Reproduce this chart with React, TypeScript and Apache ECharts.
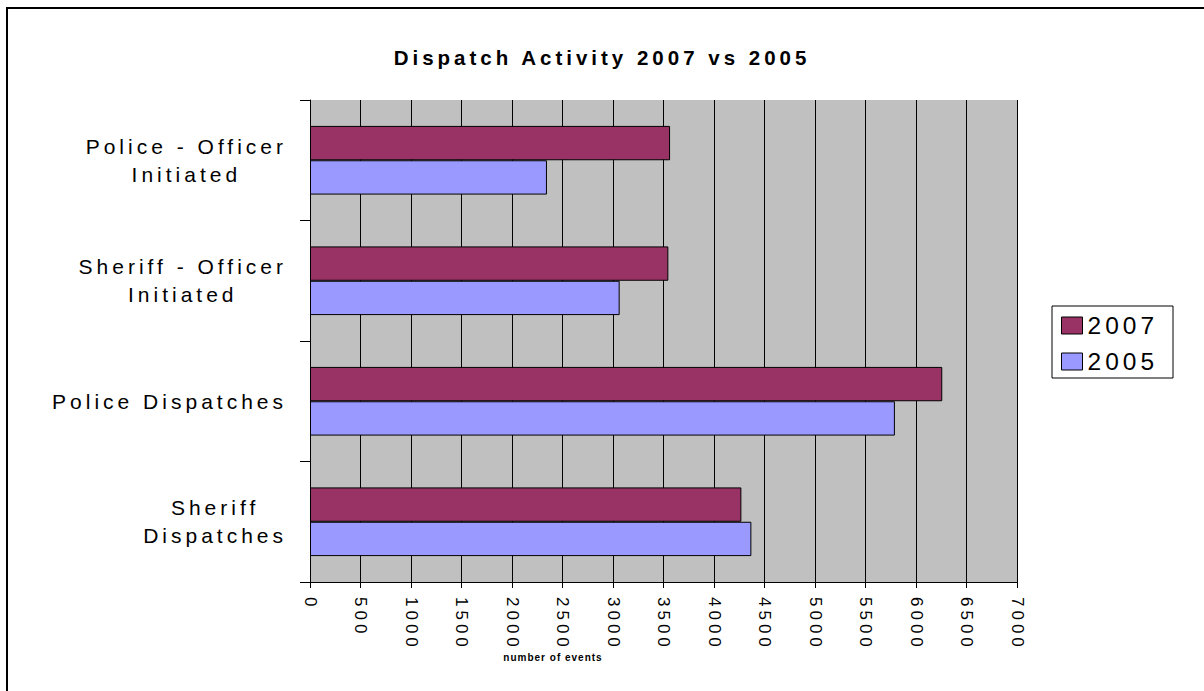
import React, { useEffect, useRef } from 'react';
import * as echarts from 'echarts';

// ---- data ----
const categories = [
  'Police - Officer\nInitiated',
  'Sheriff - Officer\nInitiated',
  'Police Dispatches',
  'Sheriff\nDispatches',
];
const seriesNames = ['2007', '2005'];
const values2007 = [3565, 3548, 6260, 4271];
const values2005 = [2346, 3066, 5791, 4370];
const xAxisMin = 0;
const xAxisMax = 7000;
const xAxisStep = 500;
const titleText = 'Dispatch Activity 2007 vs 2005';
const xAxisTitle = 'number of events';

const FONT = 'Liberation Sans, Arial, sans-serif';
const LS_BIG = 4;
const LS_SMALL = 1;

export default function App() {
  const ref = useRef<HTMLDivElement>(null);

  useEffect(() => {
    const anyE = echarts as any;
    if (anyE.setPlatformAPI) {
      const canvas = document.createElement('canvas');
      const ctx = canvas.getContext('2d') as CanvasRenderingContext2D;
      anyE.setPlatformAPI({
        measureText(text: string, font?: string) {
          ctx.font = font || '12px sans-serif';
          const m = ctx.measureText(text || '');
          const match = /(\d+(?:\.\d+)?)px/.exec(font || '');
          const size = match ? parseFloat(match[1]) : 12;
          const ls = size <= 11 ? LS_SMALL : LS_BIG;
          const n = Array.from(text || '').length;
          return {
            width: m.width + ls * n,
            actualBoundingBoxAscent: m.actualBoundingBoxAscent,
            actualBoundingBoxDescent: m.actualBoundingBoxDescent,
            actualBoundingBoxLeft: m.actualBoundingBoxLeft,
            actualBoundingBoxRight: m.actualBoundingBoxRight,
          };
        },
      });
    }

    const chart = echarts.init(ref.current as HTMLDivElement, null, { renderer: 'svg' });
    const option: any = {
      animation: false,
      backgroundColor: 'transparent',
      title: {
        text: titleText,
        left: 'center',
        top: 46,
        padding: [0, 0, 0, 15],
        textStyle: { fontSize: 20.5, fontWeight: 'bold', color: '#000', fontFamily: FONT, lineHeight: 22 },
      },
      legend: {
        orient: 'vertical',
        left: 1052,
        top: 306,
        padding: [5, 15, 2, 9],
        itemGap: 7,
        itemWidth: 21,
        itemHeight: 17,
        icon: 'rect',
        backgroundColor: '#fff',
        borderColor: '#000',
        borderWidth: 1,
        borderRadius: 0,
        data: seriesNames,
        itemStyle: { borderColor: '#000', borderWidth: 1 },
        textStyle: { fontSize: 24.5, color: '#000', fontFamily: FONT, lineHeight: 28 },
      },
      grid: {
        left: 310,
        right: 187,
        top: 100,
        bottom: 109,
        show: true,
        backgroundColor: '#C0C0C0',
        borderWidth: 0,
        containLabel: false,
        outerBoundsMode: 'none',
      },
      xAxis: {
        type: 'value',
        min: xAxisMin,
        max: xAxisMax,
        interval: xAxisStep,
        name: xAxisTitle,
        nameLocation: 'middle',
        nameGap: 70,
        nameMoveOverlap: false,
        nameTextStyle: { fontSize: 10, fontWeight: 'bold', color: '#000', fontFamily: FONT, padding: [0, 221, 0, 0] },
        axisLine: { show: true, lineStyle: { color: '#000', width: 1 } },
        axisTick: { show: true, length: 6, lineStyle: { color: '#000', width: 1 } },
        splitLine: { show: true, lineStyle: { color: '#000', width: 1 } },
        axisLabel: {
          rotate: -90,
          margin: 15,
          fontSize: 17,
          color: '#000',
          fontFamily: FONT,
          formatter: (v: number) => String(v),
        },
      },
      yAxis: {
        type: 'category',
        inverse: true,
        data: categories,
        axisLine: { show: true, lineStyle: { color: '#000', width: 1 } },
        axisTick: { show: true, length: 10, lineStyle: { color: '#000', width: 1 } },
        splitLine: { show: false },
        axisLabel: {
          margin: 23,
          align: 'right',
          formatter: (v: string) => v.split('\n').map((l) => `{c|${l}}`).join('\n'),
          rich: {
            c: { fontSize: 21, lineHeight: 28, align: 'center', color: '#000', fontFamily: FONT },
          },
        },
      },
      series: [
        {
          name: seriesNames[0],
          type: 'bar',
          data: values2007,
          barGap: '0%',
          barCategoryGap: '43%',
          itemStyle: { color: '#993366', borderColor: '#000', borderWidth: 1 },
        },
        {
          name: seriesNames[1],
          type: 'bar',
          data: values2005,
          barGap: '0%',
          barCategoryGap: '43%',
          itemStyle: { color: '#9999FF', borderColor: '#000', borderWidth: 1 },
        },
      ],
    };
    chart.setOption(option);
    return () => chart.dispose();
  }, []);

  return (
    <div style={{ position: 'fixed', left: 0, top: 0, width: 1204, height: 691, overflow: 'hidden', background: '#fff' }}>
      <style>{`.ec-chart text { letter-spacing: ${LS_BIG}px; } .ec-chart text[style*="10px"] { letter-spacing: ${LS_SMALL}px; }`}</style>
      <div
        style={{
          position: 'absolute',
          left: 6,
          top: 7,
          width: 2000,
          height: 2000,
          borderLeft: '2px solid #000',
          borderTop: '2px solid #000',
        }}
      />
      <div ref={ref} className="ec-chart" style={{ position: 'absolute', left: 0, top: 0, width: 1204, height: 691 }} />
    </div>
  );
}
